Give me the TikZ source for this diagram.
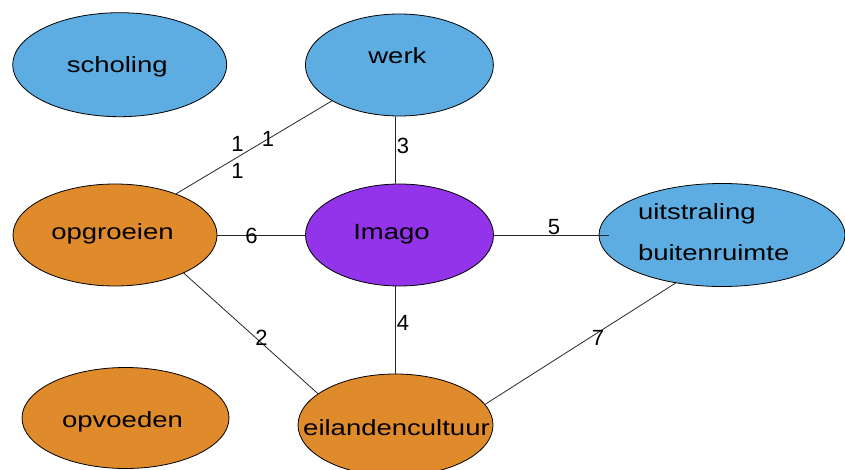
\documentclass[tikz,border=0pt]{standalone}
\usepackage{fontspec}
\setmainfont{Liberation Sans}
\newfontfamily\wordfont{Liberation Sans}[FakeStretch=1.25]
\usetikzlibrary{shapes.geometric}
\definecolor{nblue}{RGB}{93,173,226}
\definecolor{norange}{RGB}{223,138,43}
\definecolor{npurple}{RGB}{147,52,234}
\newcommand\ntext[3]{\rlap{\hspace*{#1}\makebox[0pt]{\raisebox{#2}{#3}}}}
\begin{document}
\begin{tikzpicture}[x=1pt,y=-1pt,
  ell/.style={ellipse, draw=black, line width=0.8pt, inner sep=0pt,
    font=\wordfont\fontsize{22}{26}\selectfont, text height=0pt, text depth=0pt},
  conn/.style={draw=black!85, line width=0.8pt},
  num/.style={font=\fontsize{22}{26}\selectfont, inner sep=0pt}]
\useasboundingbox (0,0) rectangle (845,470);
\node[ell, fill=nblue, minimum width=214pt, minimum height=104pt] (scholing) at (119.7,64.7) {\ntext{-2.5pt}{-8pt}{scholing}};
\node[ell, fill=nblue, minimum width=188pt, minimum height=102pt] (werk) at (399.4,65) {\ntext{-2pt}{1pt}{werk}};
\node[ell, fill=norange, minimum width=204pt, minimum height=102pt] (opgroeien) at (115,235) {\ntext{-2.5pt}{-5pt}{opgroeien}};
\node[ell, fill=npurple, minimum width=188pt, minimum height=102pt] (imago) at (399.5,235) {\ntext{-8pt}{-5pt}{Imago}};
\node[ell, fill=nblue, minimum width=246pt, minimum height=103pt] (uitstr) at (722,235)
  {\rlap{\hspace*{-84pt}\raisebox{15pt}{uitstraling}}\rlap{\hspace*{-84pt}\raisebox{-25pt}{buitenruimte}}};
\node[ell, fill=norange, minimum width=207pt, minimum height=101pt] (opvoeden) at (125.5,418) {\ntext{-3pt}{-9pt}{opvoeden}};
\node[ell, fill=norange, minimum width=195pt, minimum height=102pt] (eiland) at (395.5,425) {\ntext{1pt}{-10pt}{eilandencultuur}};

\draw[conn] (werk.208) -- (opgroeien.34);
\draw[conn] ([xshift=-4pt]werk.south) -- ([xshift=-4pt]imago.north);
\draw[conn] (opgroeien.east) -- (imago.west);
\draw[conn] (imago.east) -- ([xshift=10pt]uitstr.west);
\draw[conn] ([xshift=-4pt]imago.south) -- (eiland.north);
\draw[conn] (opgroeien.-29) -- (eiland.158);
\draw[conn] (uitstr.-134) -- (eiland.13);

\node[num] (n1a) at (237.5,143.5) {1};
\node[num] (n1b) at (268,138.5) {1};
\node[num] (n1c) at (237.5,171) {1};
\node[num] (n3) at (403,146) {3};
\node[num] (n6) at (251.5,235.5) {6};
\node[num] (n5) at (554,227) {5};
\node[num] (n4) at (403,323) {4};
\node[num] (n2) at (261.5,338) {2};
\node[num] (n7) at (598,338) {7};
\end{tikzpicture}
\end{document}
